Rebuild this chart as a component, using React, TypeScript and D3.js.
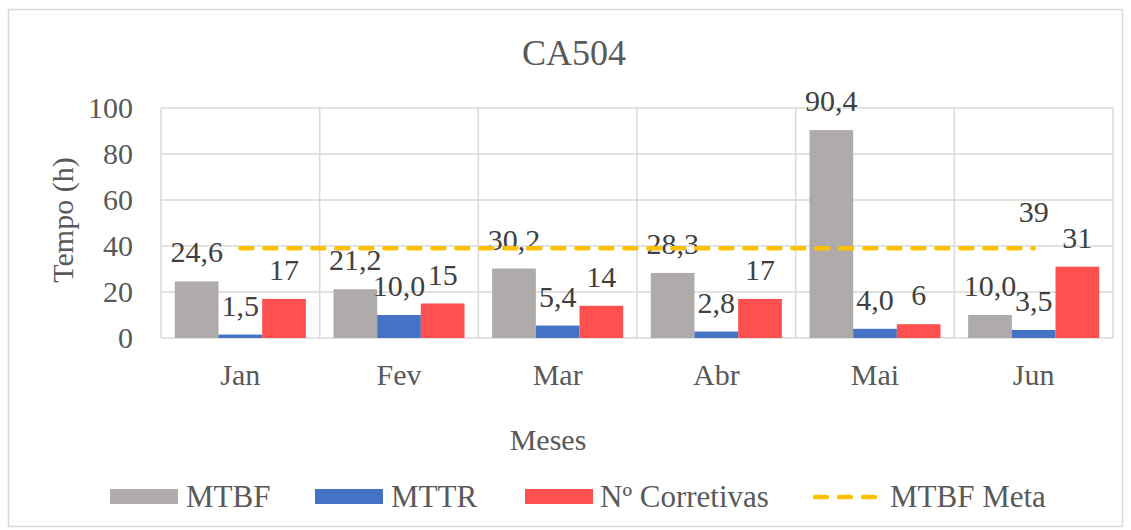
import React from 'react'
import * as d3 from 'd3'

const months = ['Jan', 'Fev', 'Mar', 'Abr', 'Mai', 'Jun']
const mtbf = [24.6, 21.2, 30.2, 28.3, 90.4, 10.0]
const mttr = [1.5, 10.0, 5.4, 2.8, 4.0, 3.5]
const corretivas = [17, 15, 14, 17, 6, 31]
const meta = [39, 39, 39, 39, 39, 39]
const yTicks = [0, 20, 40, 60, 80, 100]

const seriesNames = ['MTBF', 'MTTR', 'Nº Corretivas']
const seriesColors = ['#AFABAB', '#4472C4', '#FF5050']
const metaColor = '#FFC000'

const fmt1 = (v: number) => v.toFixed(1).replace('.', ',')
const fmt0 = (v: number) => String(Math.round(v))

const FONT = '"Liberation Serif", "Times New Roman", serif'

const App = () => {
    const W = 1131
    const H = 530
    const left = 161
    const right = 1113
    const top = 108
    const bottom = 338
    const textColor = '#595959'
    const labelColor = '#404040'

    const x = d3.scaleBand().domain(months).range([left, right]).padding(0)
    const inner = d3
          .scaleBand()
          .domain(seriesNames)
          .range([0, x.bandwidth()])
          .paddingInner(0)
          .paddingOuter(0.316)
    const y = d3.scaleLinear().domain([0, 100]).range([bottom, top])

    const series = [mtbf, mttr, corretivas]
    const formats = [fmt1, fmt1, fmt0]

    const line = d3
          .line<number>()
          .x((d, i) => (x(months[i]) as number) + x.bandwidth() / 2)
          .y(d => y(d))

    // one helper so every label gets the same font
    const label = (key: string, tx: number, ty: number, s: string, opts: any = {}) => (
        <text
            key={key}
            x={tx}
            y={ty}
            fontSize={opts.size || 30}
            fill={opts.fill || textColor}
            textAnchor={opts.anchor || 'start'}
            transform={opts.transform}
            style={{ fontFamily: FONT }}
        >
            {s}
        </text>
    )

    const bars = series.map((vals, si) =>
        vals.map((v, i) => {
            const bx = (x(months[i]) as number) + (inner(seriesNames[si]) as number)
            return (
                <g key={`b${si}-${i}`}>
                    <rect
                        x={bx}
                        y={y(v)}
                        width={inner.bandwidth()}
                        height={bottom - y(v)}
                        fill={seriesColors[si]}
                    />
                    {label(`l${si}-${i}`, bx + inner.bandwidth() / 2, y(v) - 19, formats[si](v), { anchor: 'middle', fill: labelColor })}
                </g>
            )
        })
    )

    const lastI = meta.length - 1
    const legend = [
        { name: 'MTBF', color: seriesColors[0], sx: 110, tx: 186, dash: false },
        { name: 'MTTR', color: seriesColors[1], sx: 315, tx: 391, dash: false },
        { name: 'Nº Corretivas', color: seriesColors[2], sx: 525, tx: 600, dash: false },
        { name: 'MTBF Meta', color: metaColor, sx: 813, tx: 890, dash: true },
    ]

    return (
        <svg width={W} height={H} style={{ position: 'absolute', left: 0, top: 0 }}>
            <rect x={0} y={0} width={W} height={H} fill="#fff" />
            <rect x={8.5} y={9.5} width={1114} height={517} fill="none" stroke="#d9d9d9" strokeWidth={1.5} />

            {yTicks.map(t => (
                <line key={`gy${t}`} x1={left} x2={right} y1={y(t)} y2={y(t)} stroke="#d9d9d9" strokeWidth={1.5} />
            ))}
            {months.map(m => (
                <line key={`gx${m}`} x1={x(m)} x2={x(m)} y1={top} y2={bottom} stroke="#d9d9d9" strokeWidth={1.5} />
            ))}
            <line x1={right} x2={right} y1={top} y2={bottom} stroke="#d9d9d9" strokeWidth={1.5} />

            {yTicks.map(t => label(`ty${t}`, 133, y(t) + 10, String(t), { anchor: 'end' }))}
            {months.map(m => label(`tx${m}`, (x(m) as number) + x.bandwidth() / 2, 385, m, { anchor: 'middle' }))}

            {bars}

            <path
                d={line(meta) || ''}
                fill="none"
                stroke={metaColor}
                strokeWidth={4.5}
                strokeDasharray="12 12"
                strokeLinecap="round"
            />
            {label('meta', (x(months[lastI]) as number) + x.bandwidth() / 2, y(meta[lastI]) - 26, fmt0(meta[lastI]), { anchor: 'middle', fill: labelColor })}

            {label('title', 574, 65, 'CA504', { anchor: 'middle', size: 36 })}
            {label('xt', 548, 450, 'Meses', { anchor: 'middle' })}
            {label('yt', 0, 0, 'Tempo (h)', { anchor: 'middle', transform: 'translate(73,220) rotate(-90)' })}

            {legend.map(l => (
                <g key={`lg${l.name}`}>
                    {l.dash ? (
                        <line
                            x1={l.sx + 2}
                            x2={l.sx + 62}
                            y1={497}
                            y2={497}
                            stroke={l.color}
                            strokeWidth={4.5}
                            strokeDasharray="12 12"
                            strokeLinecap="round"
                        />
                    ) : (
                        <rect x={l.sx} y={489} width={68} height={15} fill={l.color} />
                    )}
                    {label(`lt${l.name}`, l.tx, 507, l.name, { size: 31 })}
                </g>
            ))}
        </svg>
    )
}

export default App
